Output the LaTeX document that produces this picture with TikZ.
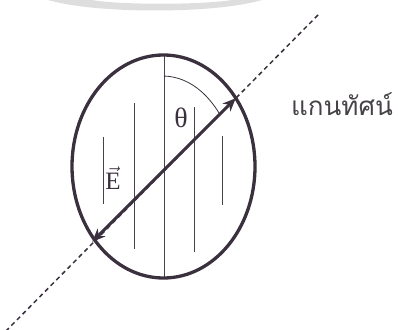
\documentclass[tikz,border=0pt]{standalone}
\usepackage{fontspec}
\setmainfont{Liberation Serif}
\newfontfamily\thaifont[Script=Thai]{Loma}
\usetikzlibrary{arrows.meta, shapes.geometric}
\definecolor{inkdark}{RGB}{58,48,62}
\definecolor{inkgray}{RGB}{70,66,72}
\definecolor{bandgray}{RGB}{222,222,222}
\tikzset{
  rimline/.style={
    draw=inkdark, line width=3.3pt, ellipse, inner sep=0pt,
    minimum width=183pt, minimum height=223pt
  },
  fieldline/.style={
    draw=inkgray, line width=0.9pt
  },
  axisline/.style={
    draw=inkdark, line width=1.5pt, dash pattern=on 4.5pt off 3.5pt
  },
  vecarrow/.style={
    {Stealth[length=13pt, width=11pt, inset=4pt]}-{Stealth[length=13pt, width=11pt, inset=4pt]},
    draw=inkdark, line width=3pt, shorten <=-1pt, shorten >=-1pt
  },
  anglearc/.style={
    draw=inkdark, line width=0.8pt
  },
  symlabel/.style={
    text=inkdark, inner sep=0pt
  },
}

\begin{document}
\begin{tikzpicture}[x=1pt, y=-1pt]
  \useasboundingbox (0,0) rectangle (398,329);

  % === Grey band at the top ===
  \fill[bandgray] (48,0) .. controls (95,14) and (215,14) .. (262,0)
    -- (232,0) .. controls (200,5) and (120,5) .. (92,0) -- cycle;

  % === Axis (dashed) ===
  \coordinate (axtop) at (318,15);
  \coordinate (axbot) at (6,331);
  \draw[axisline] (axtop) -- (axbot);

  % === Field lines ===
  \foreach \xx/\ya/\yb in {103/137/204, 134/103/249, 164/55/278, 194/107/252, 222/136/205}
    \draw[fieldline] (\xx,\ya) -- (\xx,\yb);

  % === Rim ===
  \node[rimline] (rim) at (163.5,166.5) {};

  % === Field vector ===
  \coordinate (tiplow) at (93,241);
  \coordinate (tiphigh) at (235,99);
  \draw[vecarrow] (tiplow) -- (tiphigh);

  % === Angle ===
  \coordinate (arcstart) at (164,76);
  \coordinate (arcend) at (219,113);
  \draw[anglearc] (arcstart) .. controls (190,77) and (208,95) .. (arcend);

  % === Labels ===
  \node[symlabel, font=\fontsize{28}{28}\selectfont] (theta) at (181,118) {θ};
  \node[symlabel, font=\fontsize{25}{25}\selectfont] (efield) at (113,178) {$\vec{\textrm{E}}$};
  \node[symlabel, text=inkgray, font=\thaifont\fontsize{26}{26}\selectfont] (axislabel) at (342,104) {แกนทัศน์};
\end{tikzpicture}
\end{document}
